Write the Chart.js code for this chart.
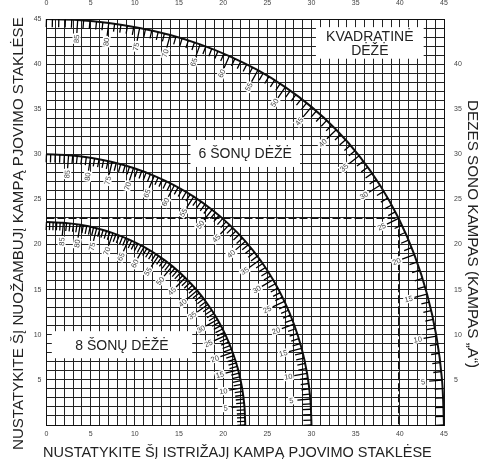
<!DOCTYPE html>
<html>
<head>
<meta charset="UTF-8">
<title>Kampai dėžėms</title>
<script src="https://cdn.jsdelivr.net/npm/chart.js@4.4.1/dist/chart.umd.min.js"></script>
<style>
html, body { margin: 0; padding: 0; background: #fff; }
canvas { display: block; }
</style>
</head>
<body>
<canvas id="myChart" width="479" height="459"></canvas>
<script>
// box side angle "A" at each numbered tick, from the top of an arc down to the axis
var sideAngles = [90, 85, 80, 75, 70, 65, 60, 55, 50, 45, 40, 35, 30, 25, 20, 15, 10, 5, 0];

// square box (outer arc): miter on x, bevel on y
var squareMiter = [0, 3.53, 7.05, 10.54, 14.00, 17.39, 20.70, 23.93, 27.03, 30.00, 32.80, 35.40, 37.76, 39.86, 41.64, 43.08, 44.14, 44.78, 45];
var squareBevel = [45, 44.89, 44.56, 44.00, 43.22, 42.19, 40.89, 39.32, 37.45, 35.26, 32.73, 29.84, 26.57, 22.91, 18.88, 14.51, 9.85, 4.98, 0];

// 6 sided box
var hexMiter = [0, 2.50, 4.98, 7.43, 9.85, 12.20, 14.48, 16.67, 18.74, 20.70, 22.52, 24.18, 25.65, 26.94, 28.02, 28.88, 29.50, 29.87, 30];
var hexBevel = [30, 29.90, 29.62, 29.15, 28.48, 27.62, 26.57, 25.31, 23.86, 22.21, 20.36, 18.32, 16.10, 13.71, 11.17, 8.50, 5.72, 2.88, 0];

// 8 sided box
var octMiter = [0, 1.91, 3.81, 5.68, 7.52, 9.31, 11.03, 12.68, 14.24, 15.70, 17.05, 18.27, 19.36, 20.29, 21.07, 21.70, 22.14, 22.41, 22.5];
var octBevel = [22.5, 22.42, 22.19, 21.81, 21.27, 20.58, 19.73, 18.74, 17.61, 16.32, 14.91, 13.36, 11.70, 9.93, 8.06, 6.12, 4.11, 2.07, 0];

// worked example (dashed lines)
var exampleMiter = 39.86;
var exampleBevel = 22.91;

var axisMin = 0;
var axisMax = 45;

var bottomTitle = "NUSTATYKITE ŠĮ ISTRIŽAJĮ KAMPĄ PJOVIMO STAKLĖSE";
var leftTitle = "NUSTATYKITE ŠĮ NUOŽAMBUJĮ KAMPĄ PJOVIMO STAKLĖSE";
var rightTitle = "DĖŽĖS ŠONO KAMPAS (KAMPAS „A“)";

var FONT = '"Liberation Sans", Arial, sans-serif';
Chart.defaults.font.family = FONT;

function toPoints(xs, ys) {
    return xs.map(function(x, i) { return {x: x, y: ys[i]}; });
}

// point and unit tangent on the drawn curve between element i and i+1
function segPoint(els, i, f) {
    if (i >= els.length - 1) { i = els.length - 2; f = 1; }
    var a = els[i], b = els[i + 1];
    var c1x = (a.cp2x !== undefined) ? a.cp2x : a.x, c1y = (a.cp2y !== undefined) ? a.cp2y : a.y;
    var c2x = (b.cp1x !== undefined) ? b.cp1x : b.x, c2y = (b.cp1y !== undefined) ? b.cp1y : b.y;
    var g = 1 - f;
    var x = g*g*g*a.x + 3*g*g*f*c1x + 3*g*f*f*c2x + f*f*f*b.x;
    var y = g*g*g*a.y + 3*g*g*f*c1y + 3*g*f*f*c2y + f*f*f*b.y;
    var dx = 3*g*g*(c1x - a.x) + 6*g*f*(c2x - c1x) + 3*f*f*(b.x - c2x);
    var dy = 3*g*g*(c1y - a.y) + 6*g*f*(c2y - c1y) + 3*f*f*(b.y - c2y);
    var len = Math.hypot(dx, dy);
    if (len < 1e-6) { dx = b.x - a.x; dy = b.y - a.y; len = Math.hypot(dx, dy); }
    return {x: x, y: y, tx: dx / len, ty: dy / len};
}

// degree ticks and numbers along each arc
var tickPlugin = {
    id: 'angleTicks',
    afterDatasetsDraw: function(chart) {
        var ctx = chart.ctx;
        chart.data.datasets.forEach(function(ds, di) {
            if (!ds.angleTicks) return;
            var els = chart.getDatasetMeta(di).data;
            var n = els.length;
            var labels = [];
            ctx.save();
            ctx.strokeStyle = '#000';
            ctx.lineWidth = 1.3;
            ctx.beginPath();
            for (var i = 0; i < n; i++) {
                var steps = (i < n - 1) ? 5 : 1;
                for (var j = 0; j < steps; j++) {
                    var s = segPoint(els, i, j / 5);
                    var nx = -s.ty, ny = s.tx;
                    var major = (j === 0 && i > 0 && i < n - 1);
                    var len = major ? 13 : 8;
                    ctx.moveTo(s.x, s.y);
                    ctx.lineTo(s.x + nx * len, s.y + ny * len);
                    if (major) {
                        labels.push({x: s.x + nx * 19, y: s.y + ny * 19,
                                     a: Math.atan2(-ny, -nx), t: String(sideAngles[i])});
                    }
                }
            }
            ctx.stroke();
            ctx.font = '7.5px ' + FONT;
            ctx.textAlign = 'center';
            ctx.textBaseline = 'middle';
            labels.forEach(function(l) {
                ctx.save();
                ctx.translate(l.x, l.y);
                ctx.rotate(l.a);
                var w = ctx.measureText(l.t).width;
                ctx.fillStyle = '#fff';
                ctx.fillRect(-w / 2 - 1, -4, w + 2, 8);
                ctx.fillStyle = '#444';
                ctx.fillText(l.t, 0, 0.5);
                ctx.restore();
            });
            ctx.restore();
        });
    }
};

// white name boxes on the grid
var boxPlugin = {
    id: 'nameBoxes',
    beforeDatasetsDraw: function(chart) {
        var ctx = chart.ctx, xs = chart.scales.x, ys = chart.scales.y;
        var boxes = [
            {x0: 30.5, x1: 42.7, y0: 40.6, y1: 44.1, lines: ['KVADRATINĖ', 'DĖŽĖ']},
            {x0: 16.3, x1: 28.7, y0: 28.6, y1: 31.6, lines: ['6 ŠONŲ DĖŽĖ']},
            {x0: 0.6, x1: 16.5, y0: 7.4, y1: 10.4, lines: ['8 ŠONŲ DĖŽĖ']}
        ];
        ctx.save();
        boxes.forEach(function(b) {
            var l = xs.getPixelForValue(b.x0), r = xs.getPixelForValue(b.x1);
            var t = ys.getPixelForValue(b.y1), btm = ys.getPixelForValue(b.y0);
            ctx.fillStyle = '#fff';
            ctx.fillRect(l, t, r - l, btm - t);
            ctx.fillStyle = '#222';
            ctx.font = '14px ' + FONT;
            ctx.textAlign = 'center';
            ctx.textBaseline = 'middle';
            var cx = (l + r) / 2, cy = (t + btm) / 2;
            var start = cy - (b.lines.length - 1) * 7;
            b.lines.forEach(function(line, k) {
                ctx.fillText(line, cx, start + k * 14 + 1);
            });
        });
        ctx.restore();
    }
};

function drawTitle(ctx, text, x, y, rot, width) {
    ctx.save();
    ctx.translate(x, y);
    ctx.rotate(rot);
    ctx.font = '15px ' + FONT;
    var size = 15 * width / ctx.measureText(text).width;
    ctx.font = size.toFixed(2) + 'px ' + FONT;
    ctx.fillStyle = '#222';
    ctx.textAlign = 'left';
    ctx.textBaseline = 'alphabetic';
    ctx.fillText(text, 0, 0);
    ctx.restore();
}

var titlePlugin = {
    id: 'axisTitles',
    afterDraw: function(chart) {
        var ctx = chart.ctx;
        drawTitle(ctx, bottomTitle, 43, 456.5, 0, 389);
        drawTitle(ctx, leftTitle, 23, 450, -Math.PI / 2, 433);
        drawTitle(ctx, rightTitle, 467.5, 100, Math.PI / 2, 268);
    }
};

function gridTicks(show, pad) {
    return {
        stepSize: 1, autoSkip: false, maxTicksLimit: 100, maxRotation: 0, minRotation: 0,
        padding: pad, color: '#444', font: {size: 7},
        callback: function(v) { var r = Math.round(v); return show(r) ? String(r) : ''; }
    };
}

var curveStyle = {showLine: true, pointRadius: 0, borderColor: '#111', borderWidth: 2, tension: 0.3, fill: false, angleTicks: true};

var datasets = [
    Object.assign({label: 'KVADRATINĖ DĖŽĖ', data: toPoints(squareMiter, squareBevel)}, curveStyle),
    Object.assign({label: '6 ŠONŲ DĖŽĖ', data: toPoints(hexMiter, hexBevel)}, curveStyle),
    Object.assign({label: '8 ŠONŲ DĖŽĖ', data: toPoints(octMiter, octBevel)}, curveStyle),
    {label: 'pavyzdys',
     data: [{x: 0, y: exampleBevel}, {x: exampleMiter, y: exampleBevel}, {x: exampleMiter, y: 0}],
     showLine: true, pointRadius: 0, borderColor: '#111', borderWidth: 1.2, borderDash: [8, 3], tension: 0, fill: false}
];

new Chart(document.getElementById('myChart'), {
    type: 'scatter',
    data: {datasets: datasets},
    options: {
        responsive: false,
        animation: false,
        layout: {padding: 0},
        plugins: {legend: {display: false}, tooltip: {enabled: false}},
        scales: {
            x: {type: 'linear', position: 'bottom', min: axisMin, max: axisMax,
                grid: {color: '#222', lineWidth: 1, drawTicks: false},
                border: {color: '#111', width: 1},
                ticks: gridTicks(function(v) { return v % 5 === 0; }, 5),
                afterFit: function(s) { s.height = 34; }},
            x2: {type: 'linear', position: 'top', min: axisMin, max: axisMax,
                grid: {display: false},
                border: {color: '#111', width: 1},
                ticks: gridTicks(function(v) { return v % 5 === 0; }, 4),
                afterFit: function(s) { s.height = 19; }},
            y: {type: 'linear', position: 'left', min: axisMin, max: axisMax,
                grid: {color: '#222', lineWidth: 1, drawTicks: false},
                border: {color: '#111', width: 1},
                ticks: gridTicks(function(v) { return v % 5 === 0 && v > 0; }, 5),
                afterFit: function(s) { s.width = 46.5; }},
            y2: {type: 'linear', position: 'right', min: axisMin, max: axisMax,
                grid: {display: false},
                border: {color: '#111', width: 1},
                ticks: gridTicks(function(v) { return v % 5 === 0 && v > 0 && v < 45; }, 2),
                afterFit: function(s) { s.width = 35; }}
        }
    },
    plugins: [boxPlugin, tickPlugin, titlePlugin]
});
</script>
</body>
</html>
